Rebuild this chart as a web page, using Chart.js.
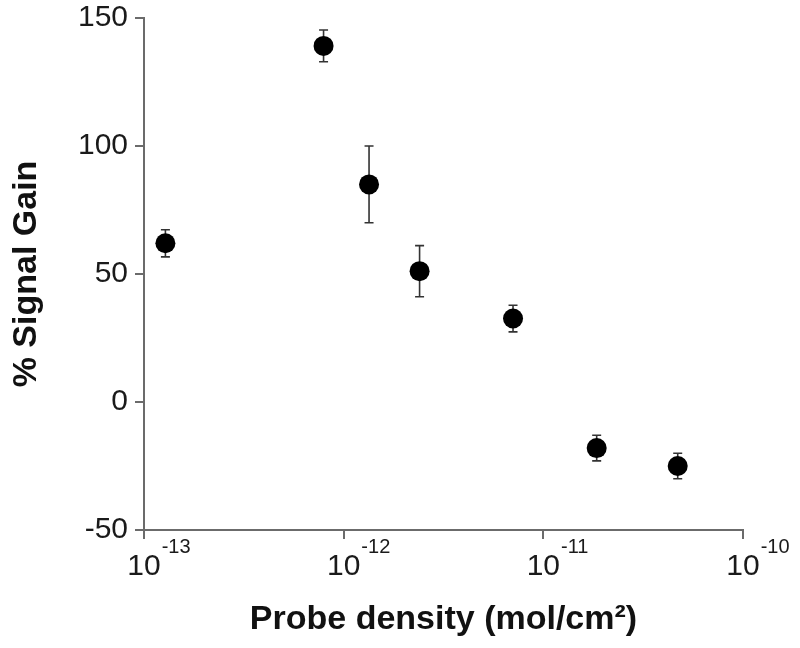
<!DOCTYPE html>
<html>
<head>
<meta charset="utf-8">
<script src="https://cdn.jsdelivr.net/npm/chart.js@4.4.0/dist/chart.umd.min.js"></script>
<style>
  html, body { margin: 0; padding: 0; background: #fff; }
  #grafico { display: block; }
</style>
</head>
<body>
<canvas id="grafico" width="800" height="648"></canvas>
<script>
// Dados
const densidades = [1.28e-13, 7.93e-13, 1.34e-12, 2.40e-12, 7.05e-12, 1.85e-11, 4.71e-11];
const ganho      = [62.0, 139.1, 85.0, 51.1, 32.6, -18.0, -25.0];
const erroGanho  = [5.3, 6.2, 15.0, 10.0, 5.2, 5.0, 5.0];
const expoentesX = [-13, -12, -11, -10];
const yMin = -50, yMax = 150, yPasso = 50;

const corEixo = '#6b6b6b';
const corTexto = '#1a1a1a';
const fonte = '"Liberation Sans", Arial, Helvetica, sans-serif';

// Barras de erro (desenhadas antes dos pontos)
const barrasErro = {
  id: 'barrasErro',
  beforeDatasetsDraw(chart) {
    const { ctx, scales: { x, y } } = chart;
    ctx.save();
    ctx.strokeStyle = '#333';
    ctx.lineWidth = 1.6;
    densidades.forEach((d, i) => {
      const px = x.getPixelForValue(d);
      const yTop = y.getPixelForValue(ganho[i] + erroGanho[i]);
      const yBot = y.getPixelForValue(ganho[i] - erroGanho[i]);
      ctx.beginPath();
      ctx.moveTo(px, yTop); ctx.lineTo(px, yBot);
      ctx.moveTo(px - 4.5, yTop); ctx.lineTo(px + 4.5, yTop);
      ctx.moveTo(px - 4.5, yBot); ctx.lineTo(px + 4.5, yBot);
      ctx.stroke();
    });
    ctx.restore();
  }
};

// Rotulos 10^n com expoente sobrescrito
const rotulosPotencia = {
  id: 'rotulosPotencia',
  afterDraw(chart) {
    const { ctx, scales: { x } } = chart;
    ctx.save();
    ctx.fillStyle = corTexto;
    expoentesX.forEach(e => {
      const px = x.getPixelForValue(Math.pow(10, e));
      ctx.font = '30px ' + fonte;
      const w = ctx.measureText('10').width;
      ctx.textAlign = 'center';
      ctx.textBaseline = 'alphabetic';
      ctx.fillText('10', px, 575);
      ctx.font = '20px ' + fonte;
      ctx.textAlign = 'left';
      ctx.fillText(String(e), px + w / 2 + 1, 553);
    });
    ctx.restore();
  }
};

new Chart(document.getElementById('grafico'), {
  type: 'scatter',
  data: {
    datasets: [{
      data: densidades.map((d, i) => ({ x: d, y: ganho[i] })),
      backgroundColor: '#000',
      borderWidth: 0,
      pointRadius: 10,
      pointHoverRadius: 10
    }]
  },
  options: {
    responsive: false,
    animation: false,
    layout: { padding: { top: 18, right: 57, left: 0, bottom: 0 } },
    plugins: { legend: { display: false }, tooltip: { enabled: false } },
    scales: {
      x: {
        type: 'logarithmic',
        min: 1e-13,
        max: 1e-10,
        afterBuildTicks: s => { s.ticks = expoentesX.map(e => ({ value: Math.pow(10, e) })); },
        afterFit: s => { s.height = 118; },
        ticks: { display: false },
        grid: { drawOnChartArea: false, drawTicks: true, tickLength: 9, color: corEixo, lineWidth: 2 },
        border: { display: true, color: corEixo, width: 2 },
        title: {
          display: true,
          text: 'Probe density (mol/cm²)',
          color: '#111',
          font: { family: fonte, size: 34, weight: 'bold' },
          padding: { top: 0, bottom: 8 }
        }
      },
      y: {
        min: yMin,
        max: yMax,
        afterFit: s => { s.width = 144; },
        ticks: {
          stepSize: yPasso,
          color: corTexto,
          padding: 7,
          font: { family: fonte, size: 30, lineHeight: 0.7 }
        },
        grid: { drawOnChartArea: false, drawTicks: true, tickLength: 9, color: corEixo, lineWidth: 2 },
        border: { display: true, color: corEixo, width: 2 },
        title: {
          display: true,
          text: '% Signal Gain',
          color: '#111',
          font: { family: fonte, size: 34, weight: 'bold' },
          padding: { top: 6, bottom: 0 }
        }
      }
    }
  },
  plugins: [barrasErro, rotulosPotencia]
});
</script>
</body>
</html>
